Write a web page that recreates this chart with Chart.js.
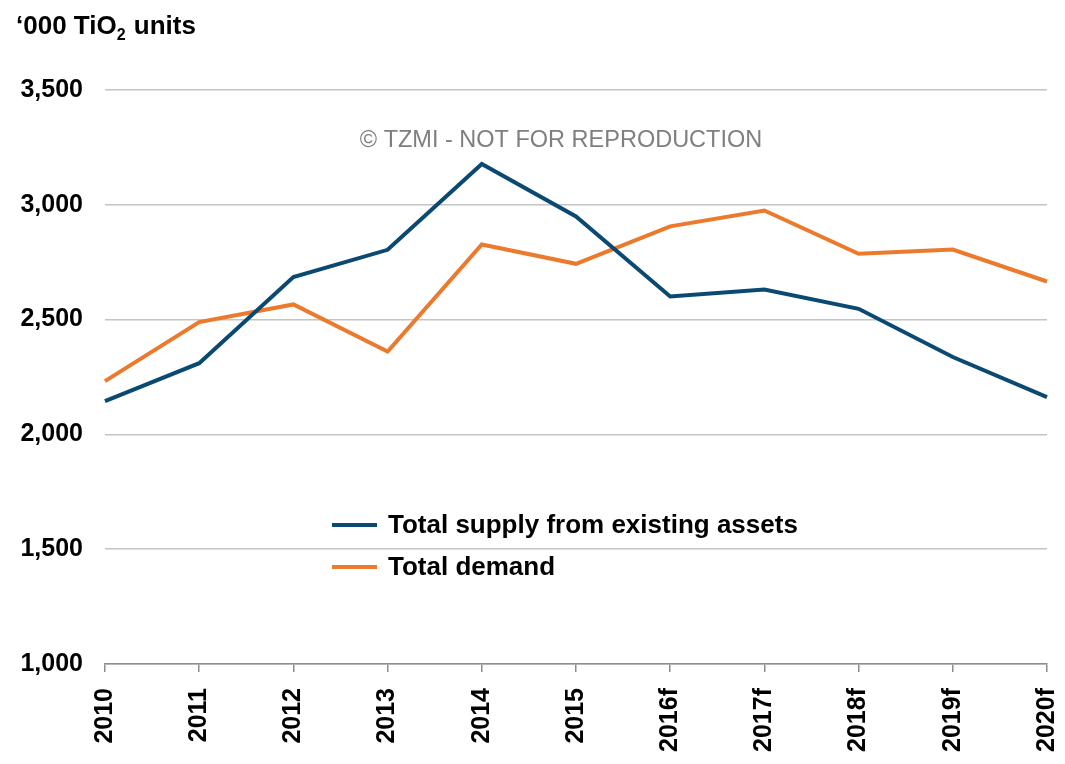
<!DOCTYPE html>
<html>
<head>
<meta charset="utf-8">
<script src="https://cdn.jsdelivr.net/npm/chart.js@4"></script>
<style>
  html, body { margin: 0; padding: 0; background: #fff; }
  #wrap { width: 1065px; height: 764px; position: relative; }
</style>
</head>
<body>
<div id="wrap"><canvas id="c" width="1065" height="764"></canvas></div>
<script>
const categories = ['2010','2011','2012','2013','2014','2015','2016f','2017f','2018f','2019f','2020f'];
const supplyValues = [2145, 2310, 2685, 2804, 3178, 2949, 2601, 2631, 2547, 2337, 2162];
const demandValues = [2232, 2489, 2566, 2361, 2827, 2743, 2906, 2975, 2787, 2805, 2666];
const seriesNames = ['Total supply from existing assets', 'Total demand'];
const yTicks = [1000, 1500, 2000, 2500, 3000, 3500];

const FONT = '"Liberation Sans", Arial, Helvetica, sans-serif';
const BLUE = '#0a4a72';
const ORANGE = '#ec7a2d';

const decor = {
  id: 'decor',
  afterDraw(chart) {
    const ctx = chart.ctx;
    ctx.save();
    // unit title with subscript
    ctx.fillStyle = '#000';
    ctx.textBaseline = 'alphabetic';
    ctx.textAlign = 'left';
    ctx.font = 'bold 26px ' + FONT;
    let x = 16, y = 34;
    const p1 = '\u2018000 TiO';
    ctx.fillText(p1, x, y);
    x += ctx.measureText(p1).width;
    ctx.font = 'bold 16px ' + FONT;
    ctx.fillText('2', x, y + 6);
    x += ctx.measureText('2').width + 1;
    ctx.font = 'bold 26px ' + FONT;
    ctx.fillText(' units', x, y);

    // watermark
    ctx.font = '23.5px ' + FONT;
    ctx.fillStyle = '#7f7f7f';
    ctx.textAlign = 'center';
    ctx.fillText('\u00A9 TZMI - NOT FOR REPRODUCTION', 561, 147);

    // legend
    const items = [[seriesNames[0], BLUE, 525], [seriesNames[1], ORANGE, 567]];
    ctx.textAlign = 'left';
    ctx.font = 'bold 26px ' + FONT;
    items.forEach(([label, color, ly]) => {
      ctx.strokeStyle = color;
      ctx.lineWidth = 4;
      ctx.beginPath();
      ctx.moveTo(332, ly);
      ctx.lineTo(377, ly);
      ctx.stroke();
      ctx.fillStyle = '#000';
      ctx.textBaseline = 'middle';
      ctx.fillText(label, 388, ly + 1);
    });
    ctx.restore();
  }
};

new Chart(document.getElementById('c'), {
  type: 'line',
  data: {
    labels: categories,
    datasets: [
      { label: seriesNames[0], data: supplyValues, borderColor: BLUE, backgroundColor: BLUE,
        borderWidth: 4, pointRadius: 0, tension: 0, fill: false },
      { label: seriesNames[1], data: demandValues, borderColor: ORANGE, backgroundColor: ORANGE,
        borderWidth: 4, pointRadius: 0, tension: 0, fill: false }
    ]
  },
  options: {
    responsive: false,
    animation: false,
    devicePixelRatio: 1,
    layout: { padding: { top: 90, right: 18, left: 0, bottom: 0 } },
    plugins: { legend: { display: false }, tooltip: { enabled: false }, title: { display: false } },
    scales: {
      x: {
        type: 'category',
        offset: false,
        grid: { drawOnChartArea: false, drawTicks: true, tickLength: 8, color: '#8c8c8c', lineWidth: 1.5 },
        border: { display: true, color: '#8c8c8c', width: 1.5 },
        ticks: {
          color: '#000', font: { family: FONT, size: 25, weight: 'bold' },
          minRotation: 90, maxRotation: 90, padding: 16, autoSkip: false
        },
        afterFit(s) { s.height = 100; s.paddingLeft = 0; s.paddingRight = 0; }
      },
      y: {
        min: 1000, max: 3500,
        afterBuildTicks(s) { s.ticks = yTicks.map(v => ({ value: v })); },
        grid: { color: '#c4c4c4', lineWidth: 1.5, drawTicks: false },
        border: { display: false },
        ticks: {
          color: '#000', font: { family: FONT, size: 25, weight: 'bold' }, padding: 22,
          callback: v => v.toLocaleString('en-US')
        },
        afterFit(s) { s.width = 105; s.paddingTop = 0; s.paddingBottom = 0; }
      }
    }
  },
  plugins: [decor]
});
</script>
</body>
</html>
